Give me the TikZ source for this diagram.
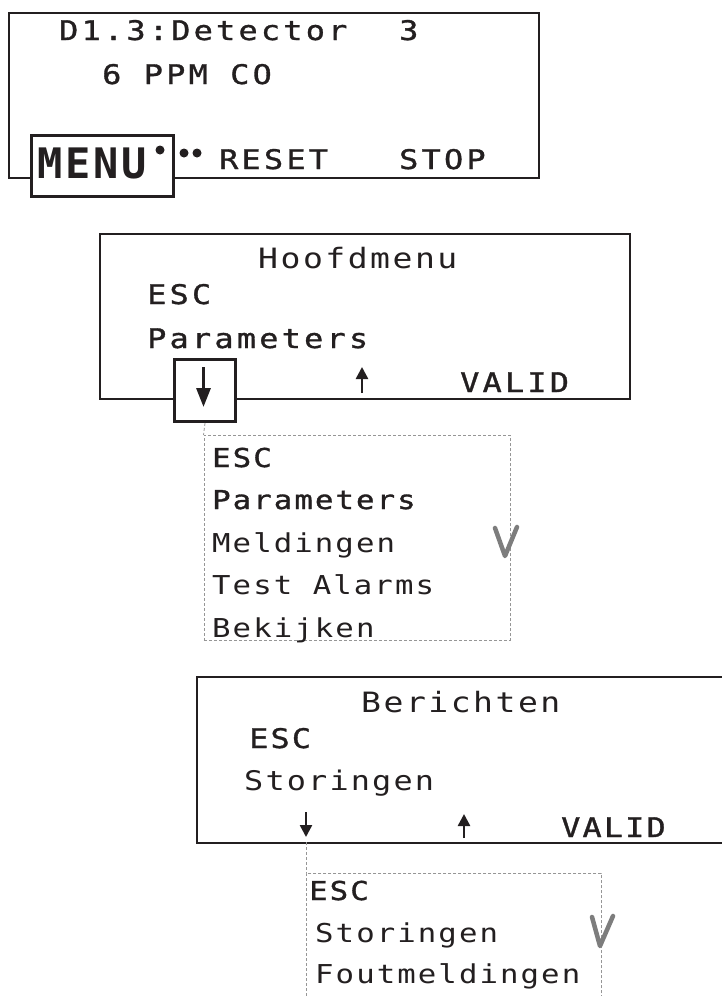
\documentclass[tikz,border=0pt]{standalone}
\usepackage{fontspec}
\usetikzlibrary{arrows.meta}
\newfontfamily\lcdF[LetterSpace=8,FakeStretch=1.18]{DejaVu Sans Mono}
\newfontfamily\lcdB[LetterSpace=8,FakeStretch=1.18,FakeBold=1.2]{DejaVu Sans Mono}
\newfontfamily\lcdS[LetterSpace=12,FakeStretch=1.18,FakeBold=1.2]{DejaVu Sans Mono}
\newfontfamily\lcdT[LetterSpace=9,FakeStretch=1.18]{DejaVu Sans Mono}
\newfontfamily\lcdM[LetterSpace=7]{DejaVu Sans Mono}
\definecolor{ink}{RGB}{35,31,32}
\definecolor{dashgray}{RGB}{150,150,150}
\definecolor{vgray}{RGB}{125,125,125}
\tikzset{
 screen/.style={draw=ink, line width=2pt, inner sep=0pt, anchor=north west},
 keybox/.style={draw=ink, line width=3pt, fill=white, inner sep=0pt, anchor=north west},
 listbox/.style={draw=dashgray, line width=0.8pt, dash pattern=on 3pt off 2pt, inner sep=0pt, anchor=north west},
 link/.style={draw=dashgray, line width=0.8pt, dash pattern=on 3pt off 2pt},
 lcd/.style={inner sep=0pt, anchor=base west, text=ink, font=\lcdF\fontsize{27}{27}\selectfont},
 lcdb/.style={lcd, font=\lcdB\fontsize{27}{27}\selectfont},
 lcds/.style={lcd, font=\lcdS\fontsize{27}{27}\selectfont},
 lcdtitle/.style={lcd, font=\lcdT\fontsize{28}{28}\selectfont},
 lcdlist/.style={lcd, font=\lcdF\fontsize{26}{26}\selectfont},
 lcdlistb/.style={lcd, font=\lcdB\fontsize{26}{26}\selectfont},
 lcdmenu/.style={lcd, font=\lcdM\bfseries\fontsize{42}{42}\selectfont},
 bigarrow/.style={draw=ink, line width=3pt, -{Triangle[length=19pt,width=14pt]}},
 smallarrow/.style={draw=ink, line width=2.5pt, -{Triangle[length=12pt,width=12pt]}},
 dot/.style={circle, fill=ink, inner sep=0pt, minimum size=9pt},
 vmark/.style={draw=vgray, line width=4.5pt, line cap=round, line join=round},
}
\begin{document}
\begin{tikzpicture}[x=1pt,y=-1pt]
\useasboundingbox (0,0) rectangle (721,996);
\fill[white] (0,0) rectangle (721,996);

% Screen 1
\node[screen, minimum width=530pt, minimum height=165pt] (scr1) at (8,12) {};
\node[lcds] (s1a) at (59,40) {D1.3:Detector};
\node[lcds] (s1b) at (399,40) {3};
\node[lcds] (s1c) at (102,84) {6 PPM CO};
\node[keybox, minimum width=142pt, minimum height=61pt] (menukey) at (30,134) {};
\node[lcdmenu] (menu) at (37,178) {MENU};
\node[dot] (d1) at (160,150) {};
\node[dot] (d2) at (184,153) {};
\node[dot] (d3) at (197,153) {};
\node[lcds] (reset) at (219,169) {RESET};
\node[lcds] (stop) at (399,169) {STOP};

% Screen 2
\node[screen, minimum width=530pt, minimum height=165pt] (scr2) at (99,233) {};
\node[lcdtitle] (h2) at (258,268) {Hoofdmenu};
\node[lcds] (esc2) at (147,304) {ESC};
\node[lcds] (par2) at (147,348) {Parameters};
\node[keybox, minimum width=61pt, minimum height=62pt] (downkey) at (173,358) {};
\draw[bigarrow] (203.5,367) -- (203.5,407);
\draw[smallarrow] (362,393) -- (362,367);
\node[lcds] (valid2) at (460,392) {VALID};

% List 1
\node[listbox, minimum width=306pt, minimum height=205pt] (list1) at (203.5,435) {};
\draw[link] (downkey.south) -- (list1.north west);
\node[lcdlistb] (l1a) at (212,467) {ESC};
\node[lcdlistb] (l1b) at (212,509) {Parameters};
\node[lcdlist] (l1c) at (212,552) {Meldingen};
\node[lcdlist] (l1d) at (212,594) {Test Alarms};
\node[lcdlist] (l1e) at (212,637) {Bekijken};
\draw[vmark] (495,528) -- (505,556) -- (517,527);

% Screen 3
\node[screen, minimum width=540pt, minimum height=166pt] (scr3) at (196,676) {};
\node[lcdtitle] (h3) at (361,712) {Berichten};
\node[lcdb] (esc3) at (249,748) {ESC};
\node[lcd] (sto3) at (244,790) {Storingen};
\draw[smallarrow] (306,812) -- (306,837);
\draw[smallarrow] (464,838) -- (464,814);
\node[lcdb] (valid3) at (561,837) {VALID};
\coordinate (k3) at (306,842);

% List 2
\node[listbox, minimum width=295pt, minimum height=140pt] (list2) at (306,873) {};
\draw[link] (k3) -- (list2.north west);
\node[lcdlistb] (l2a) at (309,900) {ESC};
\node[lcdlist] (l2b) at (315,942) {Storingen};
\node[lcdlist] (l2c) at (315,983) {Foutmeldingen};
\draw[vmark] (592,917) -- (600,946) -- (613,916);
\end{tikzpicture}
\end{document}
